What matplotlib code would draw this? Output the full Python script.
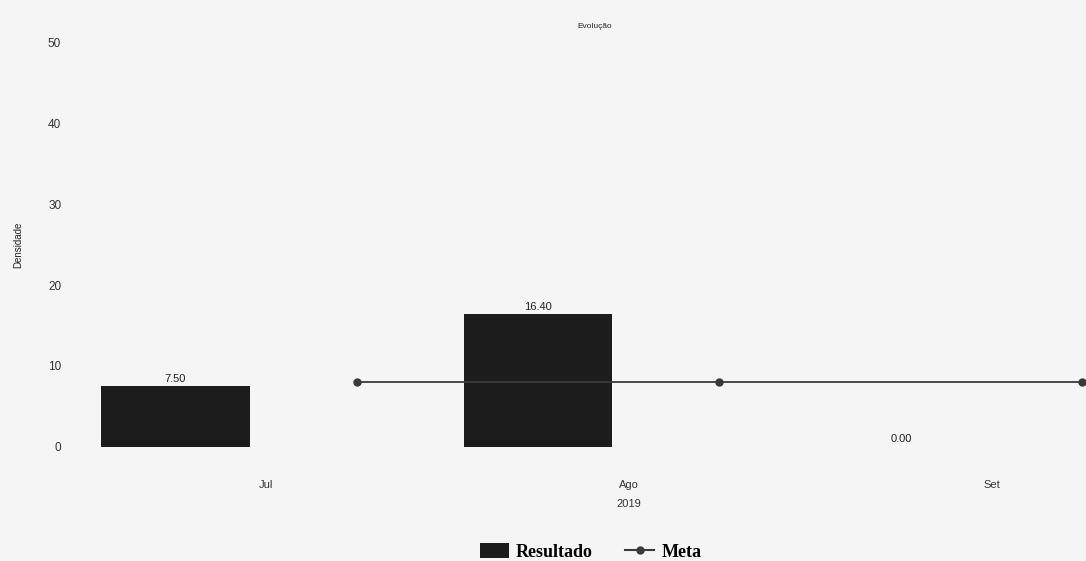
import matplotlib
matplotlib.use("Agg")
import matplotlib.pyplot as plt
from matplotlib.lines import Line2D
from matplotlib.patches import Patch

meses = ["Jul", "Ago", "Set"]
resultado = [7.5, 16.4, 0.0]
rotulos = ["7.50", "16.40", "0.00"]
meta = [8.0, 8.0, 8.0]
y_ticks = [0, 10, 20, 30, 40, 50]

plt.rcParams["font.family"] = ["Liberation Sans", "DejaVu Sans"]

fig = plt.figure(figsize=(10.86, 5.61), dpi=100)
fig.patch.set_facecolor("#f5f5f5")
ax = fig.add_axes([0.064, 0.189, 0.936, 0.75])
ax.set_facecolor("none")

pos = list(range(len(meses)))
bar_x = [p - 0.25 for p in pos]
meta_x = [p + 0.25 for p in pos]

ax.bar(bar_x, resultado, width=0.41, color="#1c1c1c", zorder=2)
for x, v, t in zip(bar_x, resultado, rotulos):
    ax.text(x, v + 0.3, t, ha="center", va="bottom", fontsize=8, color="#222222")

ax.plot(meta_x, meta, color="#3a3a3a", lw=1.3, marker="o", ms=5,
        clip_on=False, zorder=3)

x0, x1 = -0.541, 2.26
ax.set_xlim(x0, x1)
ax.set_ylim(-1, 51)
ax.set_xticks(pos)
ax.set_xticklabels(meses, fontsize=8, color="#333333")
ax.set_yticks(y_ticks)
ax.set_yticklabels([str(t) for t in y_ticks], fontsize=8.5, color="#333333")
ax.tick_params(axis="x", length=0, pad=18)
ax.tick_params(axis="y", length=0, pad=6)
for s in ax.spines.values():
    s.set_visible(False)

ax.set_ylabel("Densidade", fontsize=7, color="#222222", labelpad=18)
ax.set_xlabel("2019", fontsize=8, color="#333333")
# ano centrado sob "Ago"
ax.xaxis.set_label_coords((1 - x0) / (x1 - x0), -0.105)
fig.text(0.548, 0.952, "Evolução", ha="center", va="center", fontsize=6,
         color="#222222")

handles = [
    Patch(facecolor="#1c1c1c", label="Resultado"),
    Line2D([0], [0], color="#3a3a3a", lw=1.5, marker="o", ms=5, label="Meta"),
]
leg = fig.legend(handles=handles, loc="center", bbox_to_anchor=(0.544, 0.016),
                 ncol=2, frameon=False, handlelength=1.6, handleheight=0.9,
                 columnspacing=1.8, handletextpad=0.4, borderpad=0.1,
                 prop={"family": "Liberation Serif", "weight": "bold", "size": 13})

fig.savefig("out.png", dpi=100, facecolor=fig.get_facecolor())
